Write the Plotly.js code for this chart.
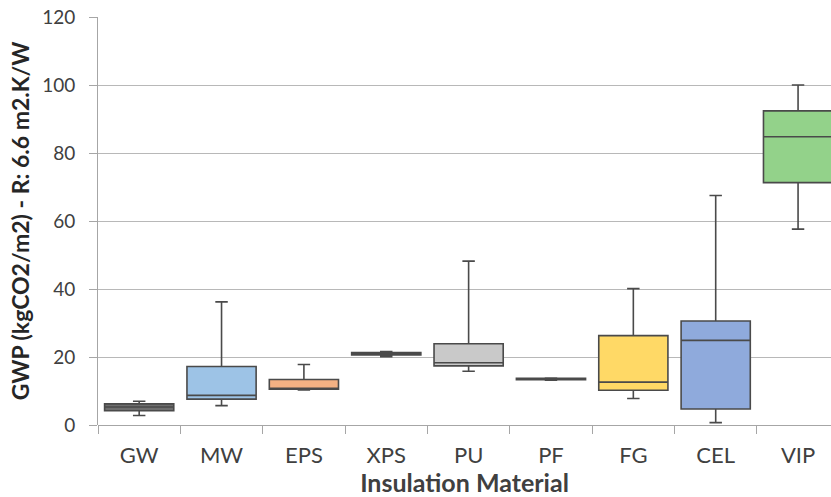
<!DOCTYPE html>
<html>
<head>
<meta charset="utf-8">
<script src="https://cdn.plot.ly/plotly-3.0.1.min.js"></script>
<style>
  html, body { margin: 0; padding: 0; background: #fff; }
  #chart { width: 831px; height: 497px; }
</style>
</head>
<body>
<div id="chart"></div>
<script>
// Insulation materials and their GWP distribution statistics (kgCO2/m2)
const materials = ["GW", "MW", "EPS", "XPS", "PU", "PF", "FG", "CEL", "VIP"];
const lowerWhisker = [2.8, 5.7, 10.3, 20.1, 15.8, 13.2, 7.8, 0.7, 57.6];
const q1Values     = [4.2, 7.6, 10.5, 20.6, 17.4, 13.3, 10.2, 4.7, 71.3];
const medianValues = [5.3, 8.7, 10.7, 21.0, 18.3, 13.5, 12.6, 24.9, 84.8];
const q3Values     = [6.2, 17.2, 13.4, 21.3, 23.9, 13.7, 26.3, 30.6, 92.4];
const upperWhisker = [7.0, 36.2, 17.8, 21.6, 48.2, 13.8, 40.1, 67.5, 100.0];
const fillColors   = ["#6e6e6e", "#9dc3e6", "#f4b183", "#a6a6a6", "#c9c9c9",
                      "#a6a6a6", "#ffd966", "#8faadc", "#93d28a"];

const traces = materials.map((m, i) => ({
  type: "box",
  x: [m],
  q1: [q1Values[i]],
  median: [medianValues[i]],
  q3: [q3Values[i]],
  lowerfence: [lowerWhisker[i]],
  upperfence: [upperWhisker[i]],
  fillcolor: fillColors[i],
  line: { color: "#4a4a4a", width: 1.6 },
  width: 0.84,
  whiskerwidth: 0.18,
  boxpoints: false,
  hoverinfo: "y",
  showlegend: false
}));

const layout = {
  width: 831,
  height: 497,
  margin: { l: 98, r: 0, t: 17, b: 72 },
  paper_bgcolor: "#ffffff",
  plot_bgcolor: "#ffffff",
  boxmode: "overlay",
  font: { family: "Lato, 'Open Sans', sans-serif", color: "#595959", size: 17 },
  xaxis: {
    type: "category",
    categoryorder: "array",
    categoryarray: materials,
    range: [-0.5, 8.4],
    ticks: "outside",
    tickson: "boundaries",
    ticklen: 8,
    tickcolor: "#a6a6a6",
    showgrid: false,
    showline: false,
    zeroline: false,
    tickfont: { size: 22, color: "#404040" },
    ticklabelstandoff: 15,
    title: {
      text: "Insulation Material",
      font: { size: 25, color: "#404040", weight: "bold" },
      standoff: 0
    }
  },
  yaxis: {
    range: [0, 120],
    dtick: 20,
    ticks: "outside",
    ticklen: 8,
    tickcolor: "#a6a6a6",
    showline: true,
    linecolor: "#a6a6a6",
    linewidth: 1,
    showgrid: true,
    gridcolor: "#b8b8b8",
    gridwidth: 1,
    zeroline: true,
    zerolinecolor: "#a6a6a6",
    zerolinewidth: 1,
    tickfont: { size: 19, color: "#404040" },
    ticklabelstandoff: 10,
    title: {
      text: "GWP (kgCO2/m2) - R: 6.6 m2.K/W",
      font: { size: 23, color: "#262626", weight: "bold" },
      standoff: 6
    }
  }
};

Plotly.newPlot("chart", traces, layout, { staticPlot: true, displayModeBar: false });
</script>
</body>
</html>
